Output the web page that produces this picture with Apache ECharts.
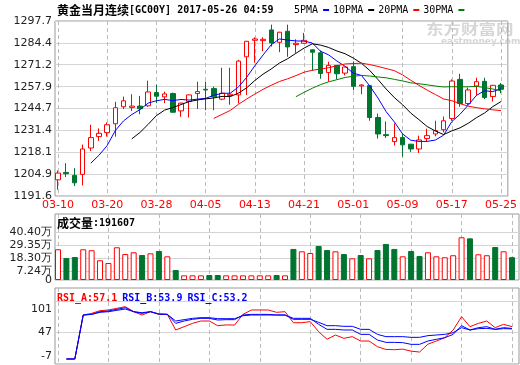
<!DOCTYPE html>
<html><head><meta charset="utf-8">
<script src="https://cdn.jsdelivr.net/npm/echarts@6/dist/echarts.min.js"></script>
<style>html,body{margin:0;padding:0;background:#fff}#c{width:520px;height:365px}</style>
</head><body><div id="c"></div>
<script>
const dates = ['03-10','03-13','03-14','03-15','03-16','03-17','03-20','03-21','03-22','03-23','03-24','03-27','03-28','03-29','03-30','03-31','04-03','04-04','04-05','04-06','04-07','04-10','04-11','04-12','04-13','04-14','04-17','04-18','04-19','04-20','04-21','04-24','04-25','04-26','04-27','04-28','05-01','05-02','05-03','05-04','05-05','05-08','05-09','05-10','05-11','05-12','05-15','05-16','05-17','05-18','05-19','05-22','05-23','05-24','05-25'];
const opens  = [1201.4,1205.9,1204.1,1204.7,1220.7,1227.6,1230.0,1235.4,1245.7,1245.3,1246.1,1246.3,1254.3,1251.7,1253.7,1243.2,1248.9,1253.7,1256.3,1256.7,1250.3,1252.5,1252.9,1276.0,1286.0,1285.8,1292.3,1284.8,1291.5,1283.4,1284.2,1280.2,1278.4,1266.4,1270.8,1266.1,1270.0,1258.3,1258.5,1239.2,1228.8,1224.6,1227.0,1223.0,1220.1,1226.4,1229.2,1231.8,1238.6,1262.3,1247.7,1258.3,1261.1,1251.9,1258.9];
const closes = [1205.5,1205.1,1199.6,1220.1,1227.0,1229.6,1234.8,1245.1,1249.3,1246.1,1244.5,1254.7,1252.1,1253.5,1242.4,1247.9,1252.9,1254.9,1255.9,1251.7,1253.9,1253.3,1273.4,1285.4,1286.8,1286.6,1284.4,1290.9,1282.0,1284.2,1286.0,1278.8,1265.9,1270.8,1265.7,1269.8,1258.1,1258.9,1239.2,1229.2,1228.2,1227.0,1222.6,1220.1,1225.6,1228.2,1231.2,1237.2,1261.3,1247.7,1255.9,1260.9,1251.3,1258.7,1256.3];
const lows   = [1195.4,1203.1,1197.6,1198.0,1218.9,1225.0,1227.6,1227.6,1244.3,1243.2,1241.2,1245.7,1247.9,1247.9,1242.0,1239.6,1239.2,1244.3,1243.6,1243.6,1249.7,1246.9,1247.7,1252.9,1272.4,1279.4,1282.2,1278.8,1276.0,1278.4,1284.0,1267.4,1262.7,1260.9,1262.3,1264.7,1255.7,1253.3,1237.2,1226.4,1226.8,1222.2,1215.5,1218.3,1217.7,1224.8,1227.8,1230.2,1237.2,1245.7,1246.7,1252.5,1250.3,1248.9,1253.9];
const highs  = [1207.1,1211.5,1208.5,1222.8,1234.8,1232.6,1236.2,1248.7,1251.9,1253.3,1252.3,1261.5,1259.1,1254.9,1254.3,1248.1,1253.1,1260.9,1260.9,1257.9,1269.4,1269.4,1274.2,1285.6,1287.8,1287.8,1295.5,1291.1,1295.5,1286.6,1290.5,1280.4,1279.8,1273.0,1271.0,1270.0,1273.2,1259.3,1258.7,1241.6,1236.8,1235.6,1229.2,1223.2,1228.2,1232.4,1237.2,1239.8,1262.3,1265.7,1257.3,1263.3,1263.3,1258.9,1260.1];
const volumes = [258000,185000,193000,258000,250000,166000,143000,275000,218000,233000,210000,224000,244000,199000,84000,39000,39000,39000,42000,42000,39000,39000,39000,39000,39000,39000,42000,39000,261000,241000,227000,286000,252000,241000,218000,182000,210000,182000,252000,303000,261000,199000,244000,202000,233000,199000,191000,208000,359000,350000,216000,208000,277000,241000,191607];
const rsiA = [null,1.6,1.6,77.0,79.8,84.4,85.6,88.4,91.3,82.7,77.0,82.7,78.1,78.1,51.3,57.0,62.7,66.7,66.7,58.7,60.0,59.8,78.1,85.6,85.6,85.6,81.6,82.7,63.8,63.8,65.6,48.4,35.3,42.7,37.0,39.9,32.4,32.4,22.7,18.0,17.5,18.5,15.0,13.5,27.0,32.4,38.1,51.3,74.1,57.0,62.7,66.7,55.3,61.0,57.1];
const rsiB = [null,1.6,1.6,77.0,78.1,82.7,83.8,86.7,89.5,82.7,79.8,82.7,78.7,78.1,62.7,66.7,69.6,71.3,71.3,68.4,69.0,69.0,77.0,78.1,78.1,78.1,77.0,77.0,71.3,71.3,71.3,61.0,52.4,52.4,51.3,51.3,43.8,43.8,34.1,30.1,30.1,29.6,26.7,26.7,32.4,35.3,38.1,43.8,58.7,51.3,55.3,57.0,52.4,55.3,53.9];
const rsiC = [null,1.6,1.6,77.0,78.1,81.6,82.7,85.0,87.3,82.7,81.0,82.7,78.7,78.1,66.7,69.0,71.3,72.4,72.4,70.7,70.7,70.7,75.8,77.0,77.0,77.0,77.0,77.0,69.6,69.6,69.6,64.4,58.7,58.7,57.6,57.6,52.4,52.4,43.8,39.9,39.9,39.9,38.7,38.7,41.6,42.7,43.8,46.7,55.3,51.3,53.6,54.1,52.4,53.6,53.2];
const xTickIdx = [0,6,12,18,24,30,36,42,48,54];
const priceTicks = ['1191.6','1204.9','1218.1','1231.4','1244.7','1257.9','1271.2','1284.4','1297.7'];
const volTickVals = [0,72400,183000,293500,404000];
const volTickLabels = ['0','7.24万','18.30万','29.35万','40.40万'];
const rsiTicks = [-7,47,101];
const titleName = '黄金当月连续';
const titleCode = '[GC00Y] 2017-05-26 04:59';
const maPeriods = [5,10,20,30];
const maNames = ['5PMA','10PMA','20PMA','30PMA'];

const RED='#ff0000', GREEN='#00752f', BLUE='#0000ff';
const maColors = [BLUE,'#000000',RED,'#008000'];
const MONO='"DejaVu Sans Mono","Liberation Mono",monospace';
const CJK='"Noto Sans CJK SC",sans-serif';
const SANS='"DejaVu Sans",sans-serif';
const N = dates.length;
const xMin=-0.357, xMax=54.83;
const volMax=554600;

function ma(n){const out=[];for(let i=n-1;i<N;i++){let s=0;for(let k=i-n+1;k<=i;k++)s+=closes[k];out.push([i,+(s/n).toFixed(2)]);}return out;}

const chart = echarts.init(document.getElementById('c'),null,{renderer:'canvas'});
const gridBase={left:55,width:464,show:true,borderColor:'#999',borderWidth:1,backgroundColor:'transparent'};
function xa(k){return {type:'value',gridIndex:k,min:xMin,max:xMax,axisLine:{show:false},
 axisTick:{show:false,customValues:xTickIdx},
 axisLabel:{show:k===0,customValues:xTickIdx,color:RED,fontSize:11,fontFamily:SANS,margin:4,hideOverlap:false,
   formatter:(v,idx)=>idx===0?'{f|'+dates[v]+'}':dates[v],rich:{f:{padding:[0,0,0,33],color:RED,fontSize:11,fontFamily:SANS}}},
 splitLine:{show:true,lineStyle:{color:'#bbbbbb',type:[4,3],width:1}}};}
const yLab={color:'#222',fontSize:11,fontFamily:SANS,margin:3,hideOverlap:false,showMinLabel:true,showMaxLabel:true};
const volLabelVals = volTickVals.slice(1);
const option={
 animation:false,
 title:[
  {left:57,top:4,padding:0,text:'{c|'+titleName+'}{a|'+titleCode+'}',textStyle:{rich:{c:{fontFamily:CJK,fontSize:12,color:'#000'},a:{fontFamily:MONO,fontSize:10,color:'#000'}}}},
  {left:57,top:217,padding:0,text:'{c|成交量}{a|:'+volumes[N-1]+'}',textStyle:{rich:{c:{fontFamily:CJK,fontSize:12,color:'#000'},a:{fontFamily:MONO,fontSize:10,color:'#000'}}}},
  {left:57,top:289,padding:0,text:'{r|RSI_A:'+rsiA[N-1].toFixed(1)+'} {b|RSI_B:'+rsiB[N-1].toFixed(1)+'} {b|RSI_C:'+rsiC[N-1].toFixed(1)+'}',textStyle:{rich:{r:{fontFamily:MONO,fontSize:10,color:RED},b:{fontFamily:MONO,fontSize:10,color:BLUE}}}}
 ],
 legend:{data:maNames,left:294,top:5,padding:0,align:'right',icon:'rect',itemWidth:6,itemHeight:2,itemGap:4,selectedMode:false,textStyle:{fontFamily:MONO,fontSize:10,color:'#000',padding:[0,0,0,0]}},
 grid:[Object.assign({top:21,height:175},gridBase),Object.assign({top:214,height:66},gridBase),Object.assign({top:288,height:76},gridBase)],
 xAxis:[xa(0),xa(1),xa(2)],
 yAxis:[
  {type:'value',gridIndex:0,position:'left',min:1191.6,max:1297.7,axisLine:{show:false},axisTick:{show:false,customValues:priceTicks.map(Number)},
   axisLabel:Object.assign({customValues:priceTicks.map(Number),formatter:v=>v.toFixed(1)},yLab),splitLine:{show:true,lineStyle:{color:'#d4d4d4'}}},
  {type:'value',gridIndex:1,position:'left',min:0,max:volMax,axisLine:{show:false},axisTick:{show:false,customValues:volTickVals},
   axisLabel:Object.assign({customValues:volLabelVals,formatter:v=>volTickLabels[volTickVals.indexOf(v)]},yLab),splitLine:{show:true,lineStyle:{color:'#d4d4d4'}}},
  {type:'value',gridIndex:2,position:'left',min:-7,max:123.3,axisLine:{show:false},axisTick:{show:false,customValues:rsiTicks},
   axisLabel:Object.assign({customValues:rsiTicks,formatter:v=>v===101?'{t|101}':(v===-7?'{b|-7}':'{m|'+v+'}'),
     rich:{t:{padding:[16,0,0,0],color:'#222',fontSize:11,fontFamily:SANS},b:{padding:[0,0,16,0],color:'#222',fontSize:11,fontFamily:SANS},m:{color:'#222',fontSize:11,fontFamily:SANS}}},yLab),
   splitLine:{show:true,lineStyle:{color:'#d4d4d4'}}},
  {type:'value',gridIndex:1,position:'left',offset:0,min:0,max:volMax,axisLine:{show:false},axisTick:{show:false,customValues:[volTickVals[0]]},
   axisLabel:Object.assign({customValues:[volTickVals[0]],formatter:v=>volTickLabels[volTickVals.indexOf(v)]},yLab),splitLine:{show:false}}
 ],
 graphic:[
  {type:'text',left:426,top:22,z:-1,scaleX:1.25,style:{text:'东方财富网',font:'bold 14px "Noto Sans CJK SC"',fill:'#d6d6d6'}},
  {type:'text',left:441,top:37,z:-1,style:{text:'eastmoney.com',font:'bold 9px "DejaVu Sans"',fill:'#d6d6d6'}}
 ],
 series:[
  {type:'candlestick',xAxisIndex:0,yAxisIndex:0,barWidth:5,encode:{x:0,y:[1,2,3,4]},
   data:dates.map((d,i)=>[i,opens[i],closes[i],lows[i],highs[i]]),
   itemStyle:{color:'#ffffff',color0:GREEN,borderColor:RED,borderColor0:GREEN,borderWidth:1}},
  ...maPeriods.map((p,k)=>({type:'line',name:maNames[k],xAxisIndex:0,yAxisIndex:0,data:ma(p),symbol:'none',
   lineStyle:{color:maColors[k],width:1},itemStyle:{color:maColors[k]}})),
  {type:'bar',xAxisIndex:1,yAxisIndex:1,barWidth:6,
   data:volumes.map((v,i)=>{const up=closes[i]>=opens[i];return {value:[i,v],itemStyle:{color:up?'#ffffff':GREEN,borderColor:up?RED:GREEN,borderWidth:1}};})},
  {type:'line',name:'RSI_A',xAxisIndex:2,yAxisIndex:2,data:rsiA.map((v,i)=>[i,v]),symbol:'none',lineStyle:{color:RED,width:1}},
  {type:'line',name:'RSI_B',xAxisIndex:2,yAxisIndex:2,data:rsiB.map((v,i)=>[i,v]),symbol:'none',lineStyle:{color:BLUE,width:1}},
  {type:'line',name:'RSI_C',xAxisIndex:2,yAxisIndex:2,data:rsiC.map((v,i)=>[i,v]),symbol:'none',lineStyle:{color:BLUE,width:1}}
 ]
};
chart.setOption(option);
</script></body></html>
